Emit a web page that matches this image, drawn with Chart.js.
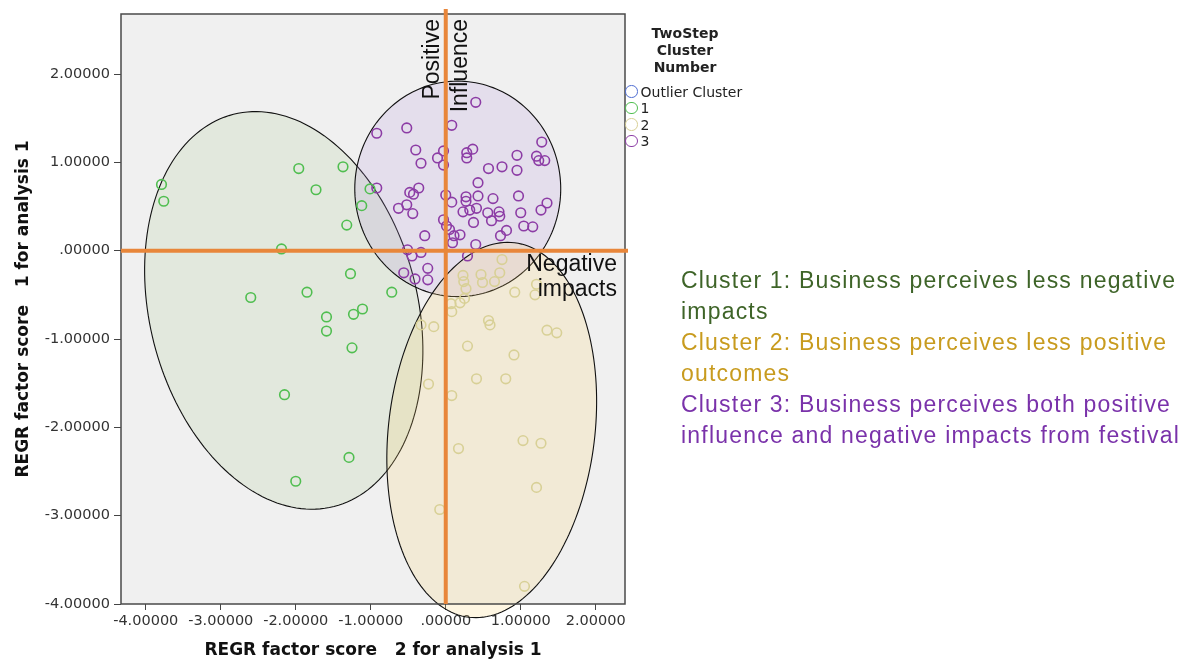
<!DOCTYPE html>
<html><head><meta charset="utf-8">
<script src="https://cdn.jsdelivr.net/npm/chart.js@4"></script>
<style>
html,body{margin:0;padding:0;background:#fff;width:1183px;height:662px;overflow:hidden;}
#wrap{position:relative;width:1183px;height:662px;}
#c{position:absolute;left:0;top:0;}
.lt{position:absolute;left:620px;top:24.5px;width:130px;text-align:center;font:bold 14px "DejaVu Sans";line-height:17px;color:#222;}
.li{position:absolute;left:625px;height:17px;line-height:17px;font:14px "DejaVu Sans";color:#222;white-space:nowrap;}
.cc{display:inline-block;width:10.5px;height:10.5px;border:1.5px solid;border-radius:50%;vertical-align:middle;margin-right:3px;position:relative;top:-1px;}
.notes{position:absolute;left:681px;top:264.5px;font:23px "Liberation Sans";letter-spacing:1.2px;line-height:31px;white-space:nowrap;}
</style></head>
<body><div id="wrap">
<canvas id="c" width="1183" height="662"></canvas>
<div class="lt">TwoStep<br>Cluster<br>Number</div>
<div class="li" style="top:83.5px"><span class="cc" style="border-color:rgb(80,110,210)"></span>Outlier Cluster</div>
<div class="li" style="top:100px"><span class="cc" style="border-color:rgb(80,190,80)"></span>1</div>
<div class="li" style="top:116.5px"><span class="cc" style="border-color:rgb(216,208,150)"></span>2</div>
<div class="li" style="top:133px"><span class="cc" style="border-color:rgb(140,60,165)"></span>3</div>
<div class="notes">
<span style="color:rgb(62,100,40)">Cluster 1: Business perceives less negative</span><br>
<span style="color:rgb(62,100,40)">impacts</span><br>
<span style="color:rgb(200,155,30)">Cluster 2: Business perceives less positive</span><br>
<span style="color:rgb(200,155,30)">outcomes</span><br>
<span style="color:rgb(122,50,170)">Cluster 3: Business perceives both positive</span><br>
<span style="color:rgb(122,50,170)">influence and negative impacts from festival</span>
</div>
</div>
<script>
const xTickValues=[-4,-3,-2,-1,0,1,2];
const xTickLabels=['-4.00000','-3.00000','-2.00000','-1.00000','.00000','1.00000','2.00000'];
const yTickValues=[-4,-3,-2,-1,0,1,2];
const yTickLabels=['-4.00000','-3.00000','-2.00000','-1.00000','.00000','1.00000','2.00000'];

const cluster1X=[-3.79,-3.76,-1.96,-1.73,-1.37,-1.32,-1.12,-1.01,-2.19,-1.27,-0.72,-2.60,-1.85,-1.59,-1.23,-1.11,-1.59,-1.25,-2.15,-1.29,-2.00];
const cluster1Y=[0.75,0.56,0.93,0.69,0.95,0.29,0.51,0.70,0.02,-0.26,-0.47,-0.53,-0.47,-0.75,-0.72,-0.66,-0.91,-1.10,-1.63,-2.34,-2.61];

const cluster2X=[0.75,0.72,0.47,0.49,0.65,0.23,0.24,0.27,0.07,0.19,0.25,0.08,0.92,1.19,1.21,0.57,0.59,-0.33,-0.16,1.35,1.48,0.29,0.91,-0.23,0.41,0.80,0.08,1.03,1.27,0.17,1.21,-0.08,1.05];
const cluster2Y=[-0.10,-0.25,-0.27,-0.36,-0.35,-0.28,-0.35,-0.43,-0.60,-0.59,-0.54,-0.69,-0.47,-0.50,-0.38,-0.79,-0.84,-0.84,-0.86,-0.90,-0.93,-1.08,-1.18,-1.51,-1.45,-1.45,-1.64,-2.15,-2.18,-2.24,-2.68,-2.93,-3.80];

const cluster3X=[0.40,0.08,-0.92,-0.52,-0.40,-0.33,-0.11,-0.03,-0.03,0.28,0.36,0.28,0.57,0.75,0.95,0.95,1.21,1.28,1.24,1.32,
-0.92,0.43,-0.48,-0.43,-0.36,-0.52,-0.63,-0.44,0.00,0.08,0.27,0.27,0.43,0.63,0.97,1.35,1.27,1.00,0.41,0.32,
0.23,0.56,0.71,0.72,0.61,0.37,-0.03,0.01,0.05,0.11,0.09,0.19,-0.28,1.04,1.16,0.81,0.73,0.40,-0.51,-0.33,
-0.45,-0.56,-0.41,-0.24,-0.24,0.29];
const cluster3Y=[1.68,1.42,1.33,1.39,1.14,0.99,1.05,1.13,0.97,1.11,1.15,1.05,0.93,0.95,0.91,1.08,1.07,1.23,1.02,1.02,
0.71,0.77,0.66,0.64,0.71,0.52,0.48,0.42,0.63,0.55,0.61,0.56,0.62,0.59,0.62,0.54,0.46,0.43,0.48,0.46,
0.44,0.43,0.44,0.39,0.34,0.32,0.35,0.28,0.24,0.17,0.09,0.18,0.17,0.28,0.27,0.23,0.17,0.07,0.01,-0.02,
-0.06,-0.25,-0.32,-0.20,-0.33,-0.06];

// cluster regions (data units): centre, two half-axis vectors
const regions=[
  {cx:-2.16, cy:-0.676, ux:-0.67, uy:2.22, vx:1.73, vy:0.372, fill:'rgba(170,200,145,0.2)'},
  {cx:0.16, cy:0.70, ux:1.373, uy:0, vx:0, vy:1.22, fill:'rgba(180,150,220,0.2)'},
  {cx:0.613, cy:-2.03, ux:0.305, uy:2.12, vx:1.365, vy:-0.142, fill:'rgba(250,210,110,0.2)'}
];

const zip=(xs,ys)=>xs.map((x,i)=>({x:x,y:ys[i]}));

const decor={
  id:'decor',
  beforeDraw(chart){
    const {ctx,chartArea:a}=chart;
    ctx.save();ctx.fillStyle='#f0f0f0';
    ctx.fillRect(a.left,a.top,a.right-a.left,a.bottom-a.top);ctx.restore();
  },
  beforeDatasetsDraw(chart){
    const {ctx}=chart;const xs=chart.scales.x, ys=chart.scales.y;
    ctx.save();
    regions.forEach(r=>{
      ctx.beginPath();
      for(let i=0;i<=180;i++){
        const t=i/180*Math.PI*2;
        const dx=r.cx+r.ux*Math.cos(t)+r.vx*Math.sin(t);
        const dy=r.cy+r.uy*Math.cos(t)+r.vy*Math.sin(t);
        const px=xs.getPixelForValue(dx), py=ys.getPixelForValue(dy);
        if(i===0)ctx.moveTo(px,py);else ctx.lineTo(px,py);
      }
      ctx.closePath();
      ctx.fillStyle=r.fill;ctx.fill();
      ctx.lineWidth=1.1;ctx.strokeStyle='#111';ctx.stroke();
    });
    ctx.restore();
  },
  afterDatasetsDraw(chart){
    const {ctx,chartArea:a}=chart;const xs=chart.scales.x, ys=chart.scales.y;
    ctx.save();
    ctx.strokeStyle='#4a4a4a';ctx.lineWidth=1.5;
    ctx.strokeRect(a.left,a.top,a.right-a.left,a.bottom-a.top);
    const x0=xs.getPixelForValue(0), y0=ys.getPixelForValue(0);
    ctx.strokeStyle='rgb(232,134,58)';ctx.lineWidth=4;
    ctx.beginPath();ctx.moveTo(x0,a.top-5);ctx.lineTo(x0,a.bottom);ctx.stroke();
    ctx.beginPath();ctx.moveTo(a.left,y0);ctx.lineTo(a.right+3,y0);ctx.stroke();
    ctx.fillStyle='#111';ctx.font='23px "Liberation Sans"';
    ctx.save();ctx.translate(x0-13.5,a.top+5);ctx.rotate(-Math.PI/2);
    ctx.textAlign='right';ctx.textBaseline='middle';ctx.fillText('Positive',0,0);ctx.restore();
    ctx.save();ctx.translate(x0+15,a.top+5);ctx.rotate(-Math.PI/2);
    ctx.textAlign='right';ctx.textBaseline='middle';ctx.fillText('Influence',0,0);ctx.restore();
    ctx.textAlign='right';ctx.textBaseline='alphabetic';
    ctx.fillText('Negative',a.right-8,y0+20);
    ctx.fillText('impacts',a.right-8,y0+45);
    ctx.restore();
  }
};

const ptStyle=(c)=>({borderColor:c,backgroundColor:'rgba(0,0,0,0)',pointRadius:4.8,pointBorderWidth:1.6,pointHoverRadius:4.8,showLine:false});

new Chart(document.getElementById('c'),{
  type:'scatter',
  data:{datasets:[
    Object.assign({label:'Outlier Cluster',data:[]},ptStyle('rgb(80,110,210)')),
    Object.assign({label:'1',data:zip(cluster1X,cluster1Y)},ptStyle('rgb(80,190,80)')),
    Object.assign({label:'2',data:zip(cluster2X,cluster2Y)},ptStyle('rgb(216,208,150)')),
    Object.assign({label:'3',data:zip(cluster3X,cluster3Y)},ptStyle('rgb(140,60,165)'))
  ]},
  options:{
    responsive:false,animation:false,
    layout:{padding:{left:0,right:558,top:14,bottom:0}},
    plugins:{legend:{display:false},tooltip:{enabled:false}},
    scales:{
      x:{type:'linear',min:-4.33,max:2.39,
        afterBuildTicks(s){s.ticks=xTickValues.map(v=>({value:v}));},
        afterFit(s){s.height=58;},
        ticks:{autoSkip:false,maxRotation:0,padding:3,color:'#333',font:{family:'DejaVu Sans',size:14.5},
          callback:(v)=>xTickLabels[xTickValues.indexOf(v)]},
        grid:{drawOnChartArea:false,drawTicks:true,tickLength:6,color:'#444'},
        border:{display:false},
        title:{display:true,text:'REGR factor score   2 for analysis 1',color:'#111',
          font:{family:'DejaVu Sans',size:17,weight:'bold'},padding:{top:0,bottom:1}}
      },
      y:{type:'linear',min:-4,max:2.68,
        afterBuildTicks(s){s.ticks=yTickValues.map(v=>({value:v}));},
        afterFit(s){s.width=121;},
        ticks:{autoSkip:false,padding:4,color:'#333',font:{family:'DejaVu Sans',size:14.5},
          callback:(v)=>yTickLabels[yTickValues.indexOf(v)]},
        grid:{drawOnChartArea:false,drawTicks:true,tickLength:7,color:'#444'},
        border:{display:false},
        title:{display:true,text:'REGR factor score   1 for analysis 1',color:'#111',
          font:{family:'DejaVu Sans',size:17,weight:'bold'},padding:{top:13,bottom:0}}
      }
    }
  },
  plugins:[decor]
});
</script>
</body></html>
